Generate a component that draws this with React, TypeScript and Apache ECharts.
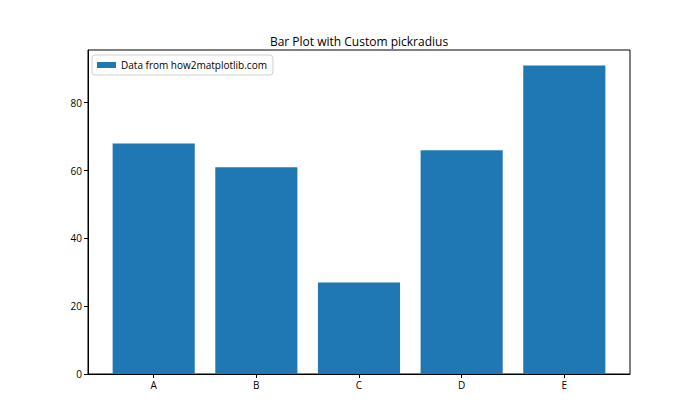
import React, { useEffect, useRef } from "react";
import * as echarts from "echarts";

const categories = ["A", "B", "C", "D", "E"];
const values = [68, 61, 27, 66, 91];
const yTicks = [0, 20, 40, 60, 80];
const seriesName = "Data from how2matplotlib.com";
const titleText = "Bar Plot with Custom pickradius";

const FONT = "'Open Sans', 'Noto Sans', sans-serif";

export default function App() {
  const ref = useRef<HTMLDivElement>(null);
  useEffect(() => {
    if (!ref.current) return;
    const chart = echarts.init(ref.current, undefined, { renderer: "svg" });
    const gridLeft = 88;
    const gridRight = 630;
    const xMin = -0.64;
    const xMax = categories.length - 1 + 0.64;
    const pxPerUnit = (gridRight - gridLeft) / (xMax - xMin);
    const yMax = Math.max(...values) * 1.05;
    chart.setOption({
      animation: false,
      textStyle: { fontFamily: FONT },
      grid: {
        left: gridLeft,
        right: 700 - gridRight,
        top: 50,
        bottom: 420 - 374,
        show: true,
        borderColor: "#000",
        borderWidth: 1,
        backgroundColor: "transparent",
      },
      graphic: [
        {
          type: "text",
          x: (gridLeft + gridRight) / 2,
          y: 41,
          style: {
            text: titleText,
            fontSize: 12,
            fontFamily: FONT,
            fill: "#000",
            textAlign: "center",
            textVerticalAlign: "middle",
          },
        },
      ],
      legend: {
        show: true,
        left: 92,
        top: 55,
        orient: "vertical",
        padding: [5, 6, 5, 5],
        itemWidth: 19,
        itemHeight: 6,
        itemGap: 5,
        borderColor: "#d0d0d0",
        borderWidth: 1,
        borderRadius: 3,
        backgroundColor: "rgba(255,255,255,0.8)",
        textStyle: { fontSize: 10, fontFamily: FONT, color: "#000" },
        data: [{ name: seriesName, icon: "rect" }],
      },
      xAxis: {
        type: "value",
        min: xMin,
        max: xMax,
        splitLine: { show: false },
        axisLine: { show: true, onZero: false, lineStyle: { color: "#000", width: 1 } },
        axisTick: {
          show: true,
          length: 4,
          customValues: categories.map((_, i) => i),
          lineStyle: { color: "#000" },
        },
        axisLabel: {
          show: true,
          customValues: categories.map((_, i) => i),
          formatter: (v: number) => categories[Math.round(v)] ?? "",
          fontSize: 10,
          fontFamily: FONT,
          color: "#000",
          margin: 6,
        },
      },
      yAxis: {
        type: "value",
        min: 0,
        max: yMax,
        splitLine: { show: false },
        axisLine: { show: true, onZero: false, lineStyle: { color: "#000", width: 1 } },
        axisTick: {
          show: true,
          length: 4,
          customValues: yTicks,
          lineStyle: { color: "#000" },
        },
        axisLabel: {
          show: true,
          customValues: yTicks,
          fontSize: 10,
          fontFamily: FONT,
          color: "#000",
          margin: 6,
        },
      },
      series: [
        {
          name: seriesName,
          type: "bar",
          barWidth: pxPerUnit * 0.8,
          itemStyle: { color: "#1f77b4" },
          data: values.map((v, i) => [i, v]),
        },
      ],
    });
    return () => chart.dispose();
  }, []);
  return (
    <div
      ref={ref}
      style={{ position: "fixed", left: 0, top: 0, width: 700, height: 420, background: "#fff" }}
    />
  );
}
